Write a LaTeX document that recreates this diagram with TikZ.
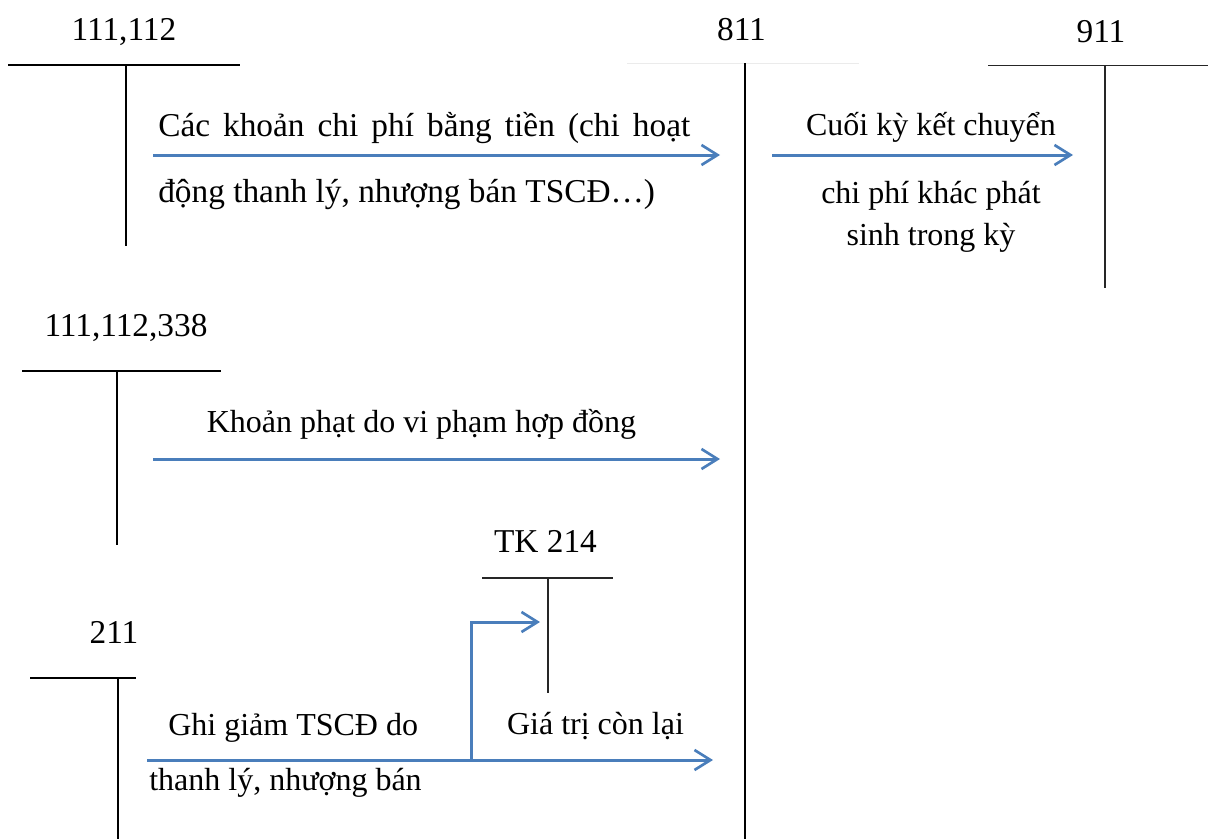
\documentclass[tikz,border=0pt]{standalone}
\usepackage{fontspec}
\setmainfont{Liberation Serif}
\usetikzlibrary{arrows.meta}
\definecolor{arrblue}{RGB}{74,126,187}
\begin{document}
\begin{tikzpicture}[x=0.75pt,y=-0.75pt,
  tline/.style={line width=1.5pt, black},
  thinline/.style={line width=1.1pt, black!85},
  flow/.style={line width=2.25pt, arrblue, -{Straight Barb[length=12pt,width=15pt,line width=2pt]}},
  lbl/.style={font=\fontsize{25}{30}\selectfont, inner sep=0pt, anchor=base},
  bigtxt/.style={font=\fontsize{25}{30}\selectfont, inner sep=0pt, anchor=base west},
  txt/.style={font=\fontsize{24}{29}\selectfont, inner sep=0pt, anchor=base west},
  ctxt/.style={font=\fontsize{24}{29}\selectfont, inner sep=0pt, anchor=base}]
\useasboundingbox (0,0) rectangle (1208,839);
% account labels
\node[lbl] (l1) at (124,40) {111,112};
\node[lbl] (l811) at (741.5,40) {811};
\node[lbl] (l911) at (1101,42) {911};
\node[lbl] (l2) at (126,336) {111,112,338};
\node[lbl] (l214) at (545.5,552) {TK 214};
\node[lbl] (l211) at (114,643) {211};
% T accounts
\draw[tline] (8,65) -- (240,65);
\draw[tline] (126,65) -- (126,246);
\draw[line width=0.5pt, black!8] (627,63) -- (859,63);
\draw[tline] (745,63) -- (745,839);
\draw[thinline] (988,65.5) -- (1208,65.5);
\draw[thinline] (1105,65.5) -- (1105,288);
\draw[tline] (22,371) -- (221,371);
\draw[tline] (117,371) -- (117,545);
\draw[thinline] (482,578) -- (613,578);
\draw[thinline] (548,578) -- (548,693);
\draw[tline] (30,678) -- (136,678);
\draw[tline] (118,678) -- (118,839);
% arrow end points
\coordinate (s1) at (153,155); \coordinate (e1) at (720,155);
\coordinate (s2) at (772,155); \coordinate (e2) at (1073,155);
\coordinate (s3) at (153,459); \coordinate (e3) at (720,459);
\coordinate (s4) at (147,760); \coordinate (e4) at (713,760);
\coordinate (b5) at (471,760); \coordinate (c5) at (471,622); \coordinate (e5) at (540,622);
\draw[flow] (s1) -- (e1);
\draw[flow] (s2) -- (e2);
\draw[flow] (s3) -- (e3);
\draw[flow] (s4) -- (e4);
\draw[flow] (b5) -- (c5) -- (e5);
% texts
\node[bigtxt] (t1a) at (158,136) {\makebox[399pt][s]{Các khoản chi phí bằng tiền (chi hoạt}};
\node[bigtxt] (t1b) at (158,202) {động thanh lý, nhượng bán TSCĐ…)};
\node[ctxt] (t2a) at (931,135) {Cuối kỳ kết chuyển};
\node[ctxt] (t2b) at (931,203) {chi phí khác phát};
\node[ctxt] (t2c) at (931,245) {sinh trong kỳ};
\node[ctxt] (t3) at (421.5,432) {Khoản phạt do vi phạm hợp đồng};
\node[txt] (t4a) at (168,735) {Ghi giảm TSCĐ do};
\node[txt] (t4b) at (149,790) {thanh lý, nhượng bán};
\node[ctxt] (t5) at (595.5,734) {Giá trị còn lại};
\end{tikzpicture}
\end{document}
